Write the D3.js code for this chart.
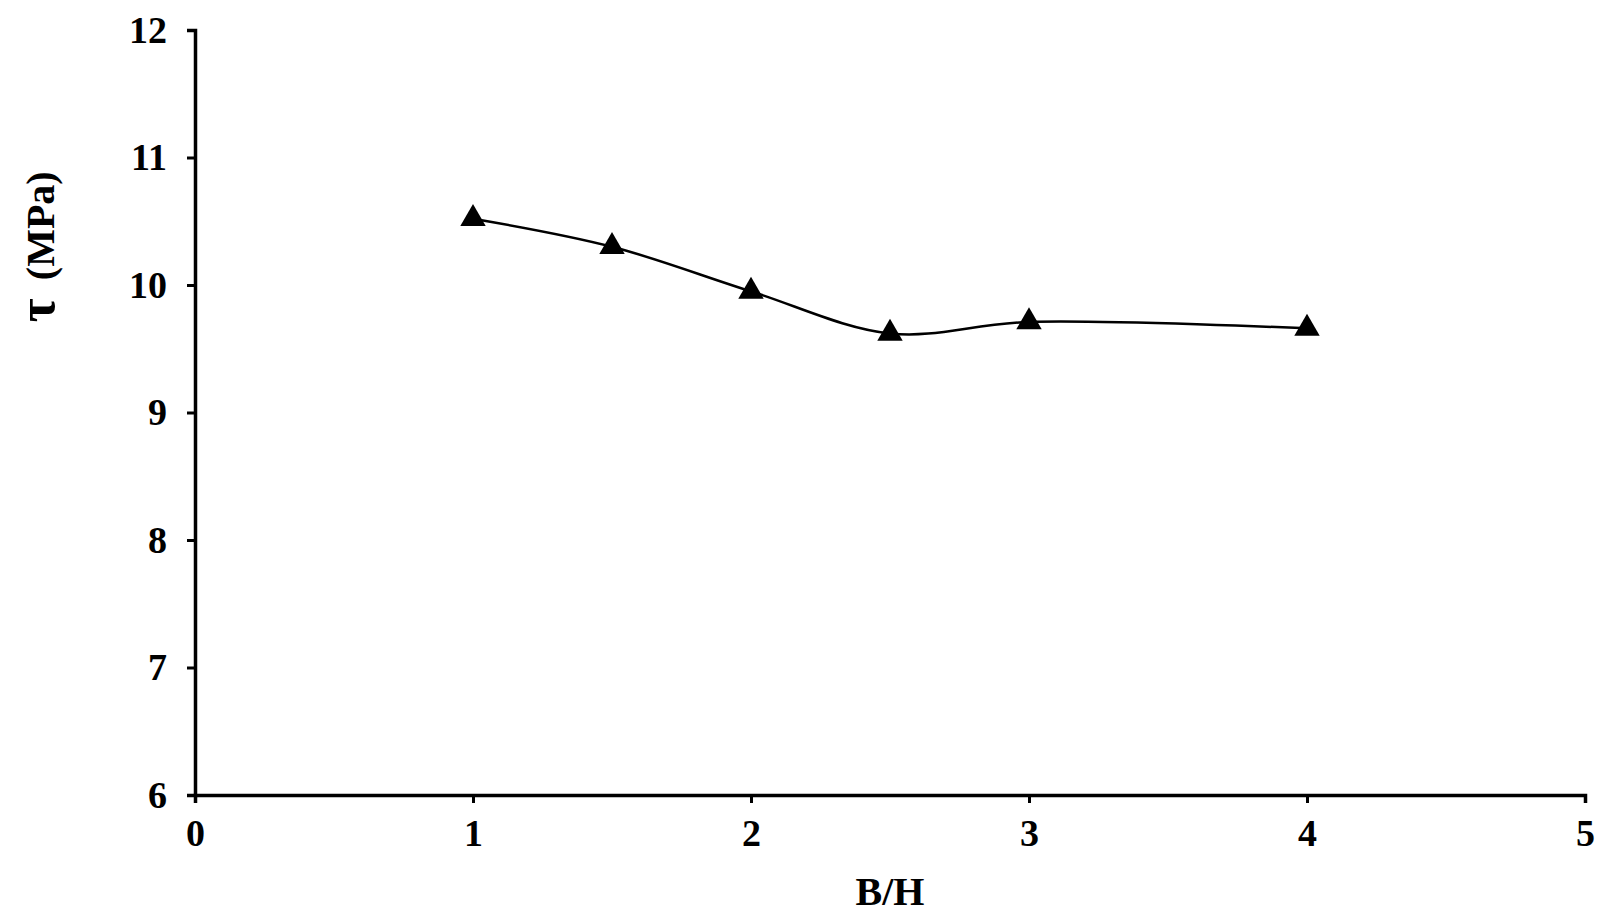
<!DOCTYPE html>
<html>
<head>
<meta charset="utf-8">
<script src="https://cdn.jsdelivr.net/npm/d3@7"></script>
<style>
  body { margin: 0; background: #fff; }
  text { font-family: "Liberation Serif", serif; font-weight: bold; }
</style>
</head>
<body>
<div id="wrapper"></div>
<script>
const ratioBH = [1, 1.5, 2, 2.5, 3, 4];
const tauMPa = [10.52, 10.30, 9.95, 9.62, 9.71, 9.66];
const xTicks = [0, 1, 2, 3, 4, 5];
const yTicks = [6, 7, 8, 9, 10, 11, 12];

const dimension = { width: 1621, height: 915, margin: { top: 30, left: 195, bottom: 120, right: 36 } };
const bw = dimension.width - dimension.margin.left - dimension.margin.right;
const bh = dimension.height - dimension.margin.top - dimension.margin.bottom;

const svg = d3.select("#wrapper").append("svg")
    .attr("width", dimension.width).attr("height", dimension.height);
const bounded = svg.append("g")
    .attr("transform", `translate(${dimension.margin.left},${dimension.margin.top})`);

const xScaler = d3.scaleLinear().domain([0, 5]).range([0, bw]);
const yScaler = d3.scaleLinear().domain([6, 12]).range([bh, 0]);

// axes
const xAxis = bounded.append("g").attr("transform", `translate(0,${bh})`)
    .call(d3.axisBottom(xScaler).tickValues(xTicks).tickFormat(d3.format("d")).tickSize(8).tickPadding(16));
const yAxis = bounded.append("g")
    .call(d3.axisLeft(yScaler).tickValues(yTicks).tickFormat(d3.format("d")).tickSize(8).tickPadding(20));
[xAxis, yAxis].forEach(a => {
    a.select(".domain").attr("stroke-width", 3.5);
    a.selectAll(".tick line").attr("stroke-width", 3);
    a.selectAll("text").attr("font-size", 38).attr("font-family", "Liberation Serif").attr("fill", "#000");
});

// line
const lineGenerator = d3.line()
    .x((d, i) => xScaler(ratioBH[i]))
    .y(d => yScaler(d))
    .curve(d3.curveCatmullRom.alpha(0.5));
bounded.append("path")
    .attr("d", lineGenerator(tauMPa))
    .attr("fill", "none").attr("stroke", "#000").attr("stroke-width", 2.5);

// markers
const tri = d3.symbol().type(d3.symbolTriangle).size(280);
bounded.selectAll(".pt").data(tauMPa).join("path")
    .attr("d", tri)
    .attr("transform", (d, i) => `translate(${xScaler(ratioBH[i])},${yScaler(d)})`)
    .attr("fill", "#000");

// labels
svg.append("text")
    .attr("x", dimension.margin.left + xScaler(2.5)).attr("y", 905)
    .attr("text-anchor", "middle").attr("font-size", 40).text("B/H");
const yl = svg.append("text")
    .attr("transform", `translate(54,${dimension.margin.top + yScaler(10.3)}) rotate(-90)`)
    .attr("text-anchor", "middle").attr("font-size", 40);
yl.append("tspan").attr("font-size", 52).text("τ");
yl.append("tspan").attr("dx", 18).text("(MPa)");
</script>
</body>
</html>
